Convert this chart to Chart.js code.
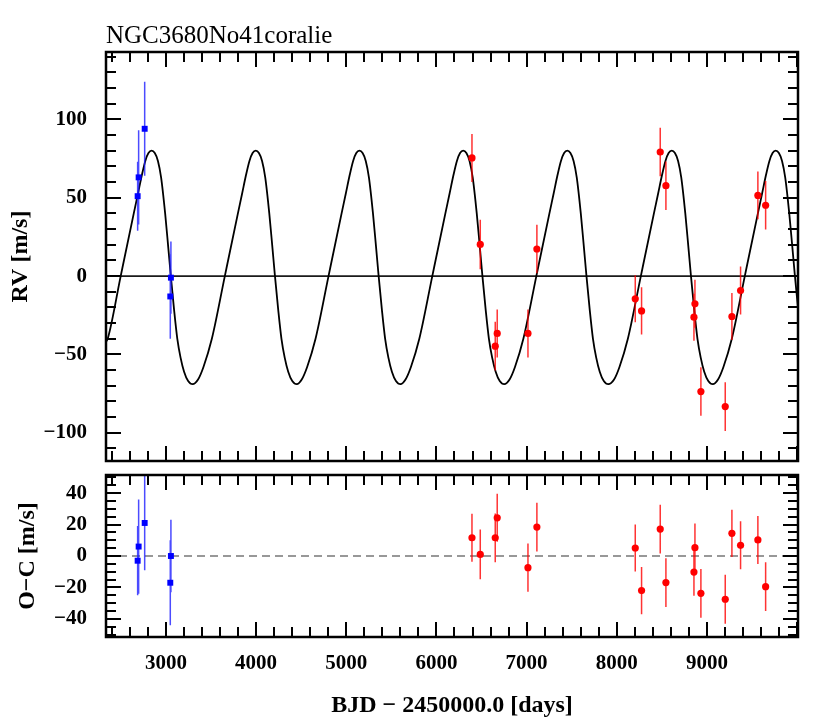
<!DOCTYPE html>
<html>
<head>
<meta charset="utf-8">
<script src="https://cdn.jsdelivr.net/npm/chart.js@4.4.0/dist/chart.umd.min.js"></script>
<style>
  body { margin: 0; background: #fff; }
  #wrap { position: relative; width: 831px; height: 727px; }
  canvas { position: absolute; left: 0; }
  #top { top: 0; }
  #bot { top: 440px; }
</style>
</head>
<body>
<div id="wrap">
  <canvas id="top" width="831" height="500"></canvas>
  <canvas id="bot" width="831" height="287"></canvas>
</div>
<script>
// CORALIE points before the upgrade (blue squares)
const blueT   = [2686, 2697, 2764, 3048, 3055];
const blueRV  = [51, 63, 94, -13, -1];
const blueErr = [22, 30, 30, 27, 23];
const blueOC  = [-3, 6, 21, -17, 0];

// CORALIE points after the upgrade (red circles)
const redT   = [6394, 6486, 6652, 6674, 7015, 7114, 8205, 8275, 8482, 8545, 8856, 8867, 8933, 9203, 9277, 9373, 9565, 9651];
const redRV  = [75.4, 20.2, -44.7, -36.6, -36.6, 17.3, -14.5, -22.2, 79.2, 57.7, -26.2, -17.7, -73.7, -83.3, -25.8, -9.2, 51.5, 45.2];
const redErr = [15.3, 15.8, 15.5, 15.3, 15.3, 15.5, 15, 15, 15.5, 15.5, 15, 15.3, 15.5, 15.6, 15, 15.3, 15.3, 15.5];
const redOC  = [11.6, 1.0, 11.6, 24.3, -7.4, 18.4, 5.1, -22.0, 17.1, -16.9, -10.2, 5.3, -23.7, -27.5, 14.4, 6.8, 10.2, -19.5];

// orbit model curve (one row per orbit)
const modelT = [
  2335, 2354, 2498, 2643, 2691, 2731, 2771, 2806, 2841, 2876, 2911, 2946, 2991, 3026, 3054, 3091, 3126, 3162, 3201, 3246, 3296,
  3356, 3416, 3509, 3653, 3798, 3846, 3886, 3926, 3961, 3996, 4031, 4066, 4101, 4146, 4181, 4209, 4246, 4281, 4317, 4356, 4401, 4451,
  4506, 4566, 4659, 4803, 4948, 4996, 5036, 5076, 5111, 5146, 5181, 5216, 5251, 5296, 5331, 5359, 5396, 5431, 5467, 5506, 5551, 5601,
  5657, 5717, 5810, 5954, 6099, 6147, 6187, 6227, 6262, 6297, 6332, 6367, 6402, 6447, 6482, 6510, 6547, 6582, 6618, 6657, 6702, 6752,
  6811, 6871, 6964, 7108, 7253, 7301, 7341, 7381, 7416, 7451, 7486, 7521, 7556, 7601, 7636, 7664, 7701, 7736, 7772, 7811, 7856, 7906,
  7970, 8030, 8123, 8267, 8412, 8460, 8500, 8540, 8575, 8610, 8645, 8680, 8715, 8760, 8795, 8823, 8860, 8895, 8931, 8970, 9015, 9065,
  9123, 9183, 9276, 9420, 9565, 9613, 9653, 9693, 9728, 9763, 9798, 9833, 9868, 9913, 9948, 9976, 10013];
const modelRV = [
  -42, -40, 0, 40, 53, 64, 73.5, 78.5, 80, 78.5, 73.5, 63, 40, 18, 0, -22, -40, -52, -61, -67, -69,
  -66, -58, -40, 0, 40, 53, 64, 73.5, 78.5, 80, 78.5, 73.5, 63, 40, 18, 0, -22, -40, -52, -61, -67, -69,
  -66, -58, -40, 0, 40, 53, 64, 73.5, 78.5, 80, 78.5, 73.5, 63, 40, 18, 0, -22, -40, -52, -61, -67, -69,
  -66, -58, -40, 0, 40, 53, 64, 73.5, 78.5, 80, 78.5, 73.5, 63, 40, 18, 0, -22, -40, -52, -61, -67, -69,
  -66, -58, -40, 0, 40, 53, 64, 73.5, 78.5, 80, 78.5, 73.5, 63, 40, 18, 0, -22, -40, -52, -61, -67, -69,
  -66, -58, -40, 0, 40, 53, 64, 73.5, 78.5, 80, 78.5, 73.5, 63, 40, 18, 0, -22, -40, -52, -61, -67, -69,
  -66, -58, -40, 0, 40, 53, 64, 73.5, 78.5, 80, 78.5, 73.5, 63, 40, 18, 0, -22];

const xTicks  = [3000, 4000, 5000, 6000, 7000, 8000, 9000];
const rvTicks = [-100, -50, 0, 50, 100];
const ocTicks = [-40, -20, 0, 20, 40];

const xMin = 2335, xMax = 10010;
const serif = '"Liberation Serif", "Times New Roman", serif';
const blue = '#0000ff', red = '#ff0000';

function pts(t, v) {
  return t.map((x, i) => ({x: x, y: v[i]}));
}
function errBars(t, v, e) {
  const out = [];
  for (let i = 0; i < t.length; i++) {
    out.push({x: t[i], y: v[i] - e[i]});
    out.push({x: t[i], y: v[i] + e[i]});
    out.push({x: t[i], y: null});
  }
  return out;
}
const minus = v => String(v).replace('-', '\u2212');
const tickFont = {family: serif, size: 21, weight: 'bold'};
const titleFont = {family: serif, size: 24, weight: 'bold'};

// frame + inward ticks on all four sides
const framePlugin = {
  id: 'frame',
  afterDraw(chart, args, o) {
    const {ctx, chartArea: a} = chart;
    const x = chart.scales.x, y = chart.scales.y;
    ctx.save();
    ctx.strokeStyle = '#000';
    ctx.lineWidth = 2;
    ctx.beginPath();
    for (let v = Math.ceil(x.min / o.xMinor) * o.xMinor; v <= x.max; v += o.xMinor) {
      const p = Math.round(x.getPixelForValue(v));
      const len = v % o.xMajor === 0 ? 15 : 10;
      ctx.moveTo(p, a.top); ctx.lineTo(p, a.top + len);
      ctx.moveTo(p, a.bottom); ctx.lineTo(p, a.bottom - len);
    }
    for (let v = Math.ceil(y.min / o.yMinor) * o.yMinor; v <= y.max; v += o.yMinor) {
      const p = Math.round(y.getPixelForValue(v));
      const len = v % o.yMajor === 0 ? 15 : 10;
      ctx.moveTo(a.left, p); ctx.lineTo(a.left + len, p);
      ctx.moveTo(a.right, p); ctx.lineTo(a.right - len, p);
    }
    ctx.stroke();
    ctx.lineWidth = 2.5;
    ctx.strokeRect(a.left, a.top, a.right - a.left, a.bottom - a.top);
    if (o.title) {
      ctx.fillStyle = '#000';
      ctx.font = '25px ' + serif;
      ctx.textBaseline = 'alphabetic';
      ctx.textAlign = 'left';
      ctx.fillText(o.title, a.left, 43);
    }
    ctx.restore();
  }
};

new Chart(document.getElementById('top'), {
  type: 'scatter',
  data: {
    datasets: [
      {data: pts(blueT, blueRV), pointStyle: 'rect', pointRadius: 4.2, backgroundColor: blue, borderWidth: 0},
      {data: pts(redT, redRV), pointStyle: 'circle', pointRadius: 3.6, backgroundColor: red, borderWidth: 0},
      {type: 'line', data: errBars(blueT, blueRV, blueErr), borderColor: 'rgba(30,30,255,0.8)', borderWidth: 1.5, pointRadius: 0, spanGaps: false},
      {type: 'line', data: errBars(redT, redRV, redErr), borderColor: 'rgba(255,0,0,0.8)', borderWidth: 1.5, pointRadius: 0, spanGaps: false},
      {type: 'line', data: pts(modelT, modelRV), borderColor: '#000', borderWidth: 1.8, pointRadius: 0, cubicInterpolationMode: 'monotone'},
      {type: 'line', data: [{x: xMin, y: 0}, {x: xMax, y: 0}], borderColor: '#1a1a1a', borderWidth: 1.6, pointRadius: 0}
    ]
  },
  options: {
    animation: false,
    responsive: false,
    layout: {padding: {top: 52, right: 33, left: 0, bottom: 0}},
    plugins: {
      legend: {display: false},
      tooltip: {enabled: false},
      frame: {xMinor: 200, xMajor: 1000, yMinor: 10, yMajor: 50, title: 'NGC3680No41coralie'}
    },
    scales: {
      x: {
        type: 'linear', min: xMin, max: xMax,
        grid: {display: false}, border: {display: false},
        ticks: {display: false},
        afterFit: s => { s.height = 39; }
      },
      y: {
        min: -118, max: 143,
        grid: {display: false, drawTicks: false}, border: {display: false},
        ticks: {font: tickFont, color: '#000', padding: 19, callback: minus},
        afterBuildTicks: s => { s.ticks = rvTicks.map(v => ({value: v})); },
        afterFit: s => { s.width = 106; },
        title: {display: true, text: 'RV [m/s]', font: titleFont, color: '#000', padding: {top: 6, bottom: 0}}
      }
    }
  },
  plugins: [framePlugin]
});

new Chart(document.getElementById('bot'), {
  type: 'scatter',
  data: {
    datasets: [
      {data: pts(blueT, blueOC), pointStyle: 'rect', pointRadius: 4.2, backgroundColor: blue, borderWidth: 0},
      {data: pts(redT, redOC), pointStyle: 'circle', pointRadius: 3.6, backgroundColor: red, borderWidth: 0},
      {type: 'line', data: errBars(blueT, blueOC, blueErr), borderColor: 'rgba(30,30,255,0.8)', borderWidth: 1.5, pointRadius: 0, spanGaps: false},
      {type: 'line', data: errBars(redT, redOC, redErr), borderColor: 'rgba(255,0,0,0.8)', borderWidth: 1.5, pointRadius: 0, spanGaps: false},
      {type: 'line', data: [{x: xMin, y: 0}, {x: xMax, y: 0}], borderColor: '#333', borderWidth: 1.2, borderDash: [8, 5], pointRadius: 0}
    ]
  },
  options: {
    animation: false,
    responsive: false,
    layout: {padding: {top: 35, right: 33, left: 0, bottom: 0}},
    plugins: {
      legend: {display: false},
      tooltip: {enabled: false},
      frame: {xMinor: 200, xMajor: 1000, yMinor: 5, yMajor: 20}
    },
    scales: {
      x: {
        type: 'linear', min: xMin, max: xMax,
        grid: {display: false, drawTicks: false}, border: {display: false},
        ticks: {font: tickFont, color: '#000', padding: 14, maxRotation: 0, callback: v => String(v)},
        afterBuildTicks: s => { s.ticks = xTicks.map(v => ({value: v})); },
        afterFit: s => { s.height = 90; },
        title: {display: true, text: 'BJD \u2212 2450000.0 [days]', font: titleFont, color: '#000', padding: {top: 0, bottom: 7}}
      },
      y: {
        min: -51.5, max: 51.5,
        grid: {display: false, drawTicks: false}, border: {display: false},
        ticks: {font: tickFont, color: '#000', padding: 19, callback: minus},
        afterBuildTicks: s => { s.ticks = ocTicks.map(v => ({value: v})); },
        afterFit: s => { s.width = 106; },
        title: {display: true, text: 'O\u2212C [m/s]', font: titleFont, color: '#000', padding: {top: 13, bottom: 0}}
      }
    }
  },
  plugins: [framePlugin]
});
</script>
</body>
</html>
